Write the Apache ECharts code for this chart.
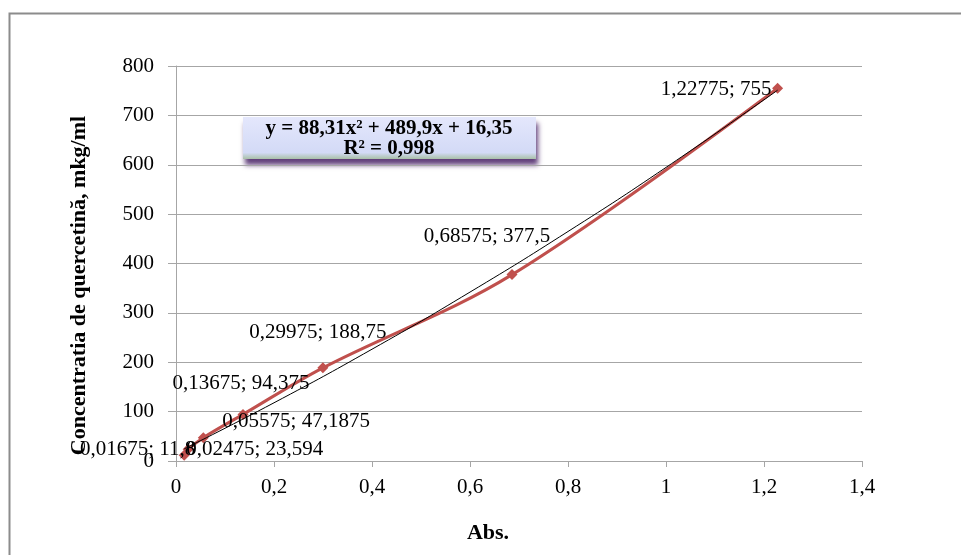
<!DOCTYPE html>
<html>
<head>
<meta charset="utf-8">
<script src="https://cdn.jsdelivr.net/npm/echarts@6/dist/echarts.min.js"></script>
<style>
  html, body { margin: 0; padding: 0; background: #fff; }
  #chart { width: 961px; height: 555px; }
</style>
</head>
<body>
<div id="chart"></div>
<script>
// measured points: absorbance -> concentration
var absValues = [0.01675, 0.02475, 0.05575, 0.13675, 0.29975, 0.68575, 1.22775];
var concValues = [11.8, 23.594, 47.1875, 94.375, 188.75, 377.5, 755];

// polynomial trend line
var trendX = [0.01675, 0.2, 0.4, 0.6, 0.8, 1.0, 1.22775];
var trendY = [24.6, 117.9, 226.4, 342.1, 464.8, 594.6, 751];

var equationText = 'y = 88,31x² + 489,9x + 16,35';
var r2Text = 'R² = 0,998';

var xName = 'Abs.';
var yName = 'Concentratia de quercetină, mkg/ml';

function comma(v) {
    return String(v).replace('.', ',');
}

// where each data label sits around its point
var labelPlace = [
    { align: 'right', offset: [11, -6] },
    { align: 'left', offset: [-2, 0] },
    { align: 'left', offset: [19, -16] },
    { align: 'center', offset: [-2, -31] },
    { align: 'center', offset: [-5, -35] },
    { align: 'center', offset: [-25, -38] },
    { align: 'right', offset: [-6, 1] }
];

var pointData = absValues.map(function (x, i) {
    return {
        value: [x, concValues[i]],
        label: {
            show: true,
            position: 'inside',
            align: labelPlace[i].align,
            offset: labelPlace[i].offset
        }
    };
});

var trendData = trendX.map(function (x, i) {
    return [x, trendY[i]];
});

var serif = '"Liberation Serif", "Times New Roman", serif';

var option = {
    animation: false,
    backgroundColor: '#fff',
    grid: { left: 176, right: 99, top: 66, bottom: 94 },
    xAxis: {
        type: 'value',
        min: 0,
        max: 1.4,
        interval: 0.2,
        name: xName,
        nameLocation: 'middle',
        nameGap: 61,
        nameTextStyle: {
            fontFamily: serif, fontSize: 22, fontWeight: 'bold', color: '#000',
            padding: [0, 62, 0, 0]
        },
        axisLine: { show: true, lineStyle: { color: '#a6a6a6', width: 1 } },
        axisTick: { show: true, length: 6, lineStyle: { color: '#a6a6a6' } },
        axisLabel: {
            margin: 16,
            fontFamily: serif, fontSize: 21, color: '#000',
            formatter: function (v) { return comma(+v.toFixed(2)); }
        },
        splitLine: { show: false }
    },
    yAxis: {
        type: 'value',
        min: 0,
        max: 800,
        interval: 100,
        name: yName,
        nameLocation: 'middle',
        nameRotate: 90,
        nameGap: 86,
        nameTextStyle: {
            fontFamily: serif, fontSize: 22, fontWeight: 'bold', color: '#000',
            padding: [0, 44, 0, 0]
        },
        axisLine: { show: true, lineStyle: { color: '#a6a6a6', width: 1 } },
        axisTick: { show: true, length: 8, lineStyle: { color: '#a6a6a6' } },
        axisLabel: {
            margin: 22,
            fontFamily: serif, fontSize: 21, color: '#000'
        },
        splitLine: { show: true, lineStyle: { color: '#a6a6a6', width: 1 } }
    },
    graphic: [
        {
            type: 'rect',
            left: 7, top: 11,
            shape: { width: 1000, height: 600 },
            style: { fill: 'none', stroke: '#8c8c8c', lineWidth: 2 },
            z: -1
        },
        {
            type: 'group',
            left: 243, top: 117,
            z: 100,
            children: [
                {
                    type: 'rect',
                    shape: { width: 293, height: 42 },
                    style: {
                        fill: {
                            type: 'linear', x: 0, y: 0, x2: 0, y2: 1,
                            colorStops: [
                                { offset: 0, color: '#e4e7fc' },
                                { offset: 0.85, color: '#d3daf6' },
                                { offset: 1, color: '#a9c0a8' }
                            ]
                        },
                        shadowColor: 'rgba(70, 30, 100, 0.85)',
                        shadowOffsetY: 6,
                        shadowOffsetX: 2,
                        shadowBlur: 5
                    }
                },
                {
                    type: 'text',
                    x: 146, y: 12,
                    style: {
                        text: equationText,
                        fontFamily: serif, fontSize: 21, fontWeight: 'bold', fill: '#000',
                        textAlign: 'center', textVerticalAlign: 'middle'
                    }
                },
                {
                    type: 'text',
                    x: 146, y: 32,
                    style: {
                        text: r2Text,
                        fontFamily: serif, fontSize: 21, fontWeight: 'bold', fill: '#000',
                        textAlign: 'center', textVerticalAlign: 'middle'
                    }
                }
            ]
        }
    ],
    series: [
        {
            name: 'Concentratia',
            type: 'line',
            data: pointData,
            smooth: 0.35,
            symbol: 'diamond',
            symbolSize: 11,
            lineStyle: { color: '#c0504d', width: 3 },
            itemStyle: { color: '#c0504d' },
            label: {
                fontFamily: serif, fontSize: 21, color: '#000',
                formatter: function (p) {
                    return comma(p.value[0]) + '; ' + comma(p.value[1]);
                }
            },
            z: 3
        },
        {
            name: 'Trend',
            type: 'line',
            data: trendData,
            smooth: true,
            showSymbol: false,
            lineStyle: { color: '#000', width: 1 },
            z: 4,
            silent: true
        }
    ]
};

var myChart = echarts.init(document.getElementById('chart'));
myChart.setOption(option);
</script>
</body>
</html>
